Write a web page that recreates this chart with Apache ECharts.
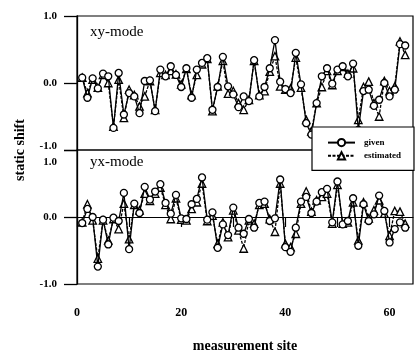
<!DOCTYPE html>
<html>
<head>
<meta charset="utf-8">
<script src="https://cdn.jsdelivr.net/npm/echarts@6/dist/echarts.min.js"></script>
<style>
  html, body { margin: 0; padding: 0; background: #fff; }
  #chart { width: 419px; height: 354px; }
</style>
</head>
<body>
<div id="chart"></div>
<script>
// measurement sites
const sites = [1, 2, 3, 4, 5, 6, 7, 8, 9, 10, 11, 12, 13, 14, 15, 16, 17, 18, 19, 20,
  21, 22, 23, 24, 25, 26, 27, 28, 29, 30, 31, 32, 33, 34, 35, 36, 37, 38, 39, 40,
  41, 42, 43, 44, 45, 46, 47, 48, 49, 50, 51, 52, 53, 54, 55, 56, 57, 58, 59, 60,
  61, 62, 63];

// xy-mode static shift
const xyGiven = [0.08, -0.22, 0.07, -0.08, 0.14, 0.10, -0.67, 0.15, -0.47, -0.15,
  -0.20, -0.45, 0.03, 0.04, -0.42, 0.20, 0.10, 0.25, 0.12, -0.06,
  0.22, -0.22, 0.20, 0.30, 0.37, -0.40, -0.06, 0.39, -0.05, -0.17,
  -0.36, -0.20, -0.27, 0.34, -0.20, -0.06, 0.22, 0.64, 0.02, -0.09,
  -0.15, 0.45, -0.02, -0.60, -0.77, -0.30, 0.10, 0.22, -0.01, 0.20,
  0.25, 0.10, 0.29, -0.70, -0.12, -0.10, -0.34, -0.25, 0.00, -0.20,
  -0.10, 0.58, 0.56];
const xyEstimated = [0.08, -0.15, 0.05, -0.07, 0.12, 0.00, -0.65, 0.05, -0.52, -0.10,
  -0.18, -0.35, -0.20, 0.03, -0.40, 0.15, 0.12, 0.18, 0.13, -0.02,
  0.21, -0.18, 0.12, 0.28, 0.36, -0.42, -0.05, 0.33, -0.16, -0.12,
  -0.30, -0.40, -0.25, 0.33, -0.18, -0.12, 0.17, 0.40, -0.05, -0.10,
  -0.08, 0.38, -0.07, -0.55, -0.72, -0.30, -0.06, 0.18, -0.03, 0.18,
  0.24, 0.14, 0.22, -0.55, -0.06, 0.02, -0.30, -0.50, 0.03, -0.12,
  -0.05, 0.62, 0.42];

// yx-mode static shift
const yxGiven = [-0.09, 0.12, 0.00, -0.74, -0.04, -0.41, -0.01, -0.06, 0.36, -0.48,
  0.20, 0.06, 0.45, 0.26, 0.38, 0.49, 0.21, 0.05, 0.33, -0.02,
  -0.03, 0.19, 0.27, 0.59, -0.04, 0.07, -0.46, -0.11, -0.27, 0.14,
  -0.16, -0.25, -0.03, -0.16, 0.21, 0.23, -0.06, -0.02, 0.56, -0.45,
  -0.52, -0.16, 0.23, 0.30, 0.06, 0.23, 0.37, 0.42, -0.08, 0.53,
  -0.11, -0.06, 0.28, -0.43, 0.19, -0.06, 0.04, 0.32, 0.09, -0.38,
  -0.18, -0.08, -0.16];
const yxEstimated = [-0.08, 0.19, -0.05, -0.62, -0.05, -0.35, -0.03, -0.18, 0.20, -0.33,
  0.18, 0.10, 0.35, 0.24, 0.35, 0.44, 0.18, -0.03, 0.28, -0.04,
  -0.05, 0.12, 0.22, 0.50, -0.06, 0.02, -0.40, -0.08, -0.30, 0.10,
  -0.20, -0.47, -0.05, -0.10, 0.18, 0.20, -0.03, -0.22, 0.50, -0.40,
  -0.45, -0.25, 0.20, 0.38, 0.08, 0.25, 0.30, 0.35, -0.10, 0.48,
  -0.10, -0.08, 0.22, -0.35, 0.22, -0.02, 0.10, 0.25, 0.05, -0.28,
  0.09, 0.08, -0.10];

const xTicks = [0, 10, 20, 30, 40, 50, 60];
const xLabels = [0, 20, 40, 60];

const FONT = "Liberation Serif";
const chart = echarts.init(document.getElementById("chart"));

const pairs = (vals) => sites.map((s, i) => [s, vals[i]]);

const lineSeries = (name, vals, idx, est) => ({
  name,
  type: "line",
  xAxisIndex: idx,
  yAxisIndex: idx,
  data: pairs(vals),
  symbol: est ? "triangle" : "circle",
  symbolSize: est ? 7.5 : 7,
  showSymbol: true,
  color: "#000",
  itemStyle: { color: "#fff", borderColor: "#000", borderWidth: 1.3 },
  lineStyle: { color: "#000", width: 1.3, type: est ? [3, 1.5] : "solid" },
  animation: false,
  z: est ? 3 : 4,
});

const yAxisBase = {
  type: "value",
  min: -1,
  max: 1,
  interval: 1,
  axisLine: { show: true, lineStyle: { color: "#000", width: 1.3 } },
  axisTick: { show: true, length: 13, lineStyle: { color: "#000", width: 1.3 } },
  splitLine: { show: false },
};

const labelFont = { color: "#000", fontFamily: FONT, fontWeight: "bold", fontSize: 11 };

chart.setOption({
  animation: false,
  grid: [
    { left: 77, top: 16, width: 336, height: 134, show: true, borderColor: "#000", borderWidth: 1.2 },
    { left: 77, top: 150, width: 336, height: 136, show: true, borderColor: "#000", borderWidth: 1.2 },
  ],
  xAxis: [
    {
      type: "value", gridIndex: 0, min: 0, max: 64.5,
      axisLine: { show: false }, axisTick: { show: false },
      axisLabel: { show: false }, splitLine: { show: false },
    },
    {
      type: "value", gridIndex: 1, min: 0, max: 64.5,
      axisLine: { show: true, lineStyle: { color: "#000", width: 1.2 } },
      axisTick: { show: true, length: 10, customValues: xTicks, lineStyle: { color: "#000", width: 1.2 } },
      axisLabel: { show: true, margin: 23, customValues: xLabels, ...labelFont, fontSize: 12 },
      splitLine: { show: false },
      name: "measurement site",
      nameLocation: "middle",
      nameGap: 55,
      nameTextStyle: { color: "#000", fontFamily: FONT, fontWeight: "bold", fontSize: 14 },
    },
  ],
  yAxis: [
    {
      ...yAxisBase, gridIndex: 0,
      axisLabel: {
        ...labelFont, margin: 20,
        formatter: (v) => (v === -1 ? "{up|-1.0}" : v.toFixed(1)),
        rich: { up: { ...labelFont, padding: [0, 0, 8, 0] } },
      },
    },
    {
      ...yAxisBase, gridIndex: 1,
      axisLabel: {
        ...labelFont, margin: 20,
        formatter: (v) => (v === 1 ? "{dn|1.0}" : v.toFixed(1)),
        rich: { dn: { ...labelFont, padding: [24, 0, 0, 0] } },
      },
    },
  ],
  legend: {
    left: 312,
    top: 127,
    orient: "vertical",
    data: ["given", "estimated"],
    backgroundColor: "#fff",
    borderColor: "#000",
    borderWidth: 1.2,
    borderRadius: 0,
    padding: [11, 13, 10, 15],
    itemGap: 4,
    itemWidth: 27,
    itemHeight: 9,
    textStyle: { color: "#000", fontFamily: FONT, fontWeight: "bold", fontSize: 9, padding: [0, 0, 0, 4] },
    z: 10,
  },
  graphic: [
    {
      type: "text", left: 90, top: 25, z: 10,
      style: { text: "xy-mode", fill: "#000", font: "15px " + FONT },
    },
    {
      type: "text", left: 90, top: 155, z: 10,
      style: { text: "yx-mode", fill: "#000", font: "15px " + FONT },
    },
    {
      type: "text", x: 20, y: 150, rotation: Math.PI / 2, z: 10,
      style: {
        text: "static shift", fill: "#000", font: "bold 14px " + FONT,
        align: "center", verticalAlign: "middle",
      },
    },
  ],
  series: [
    lineSeries("given", xyGiven, 0, false),
    lineSeries("estimated", xyEstimated, 0, true),
    lineSeries("given", yxGiven, 1, false),
    lineSeries("estimated", yxEstimated, 1, true),
  ],
});
</script>
</body>
</html>
